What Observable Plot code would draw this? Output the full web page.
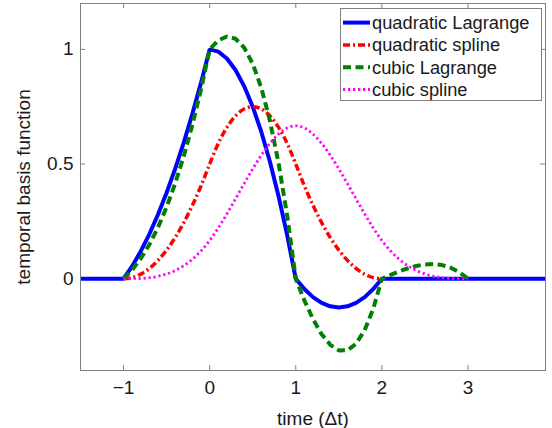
<!DOCTYPE html>
<html>
<head>
<meta charset="utf-8">
<script src="https://cdn.jsdelivr.net/npm/d3@7"></script>
<script src="https://cdn.jsdelivr.net/npm/@observablehq/plot@0.6"></script>
<style>
  html, body { margin: 0; padding: 0; background: #fff; }
  #wrap { position: relative; width: 552px; height: 428px; }
  #legend { position: absolute; left: 0; top: 0; }
</style>
</head>
<body>
<div id="wrap"></div>
<script>
// ---- data ----
const time = [-1.5, -1, -0.9, -0.8, -0.7, -0.6, -0.5, -0.4, -0.3, -0.2, -0.1, 0,
  0.1, 0.2, 0.3, 0.4, 0.5, 0.6, 0.7, 0.8, 0.9, 1,
  1.1, 1.2, 1.3, 1.4, 1.5, 1.6, 1.7, 1.8, 1.9, 2,
  2.1, 2.2, 2.3, 2.4, 2.5, 2.6, 2.7, 2.8, 2.9, 3, 3.9];

const quadraticLagrange = [0, 0, 0.055, 0.12, 0.195, 0.28, 0.375, 0.48, 0.595, 0.72, 0.855, 1,
  0.99, 0.96, 0.91, 0.84, 0.75, 0.64, 0.51, 0.36, 0.19, 0,
  -0.045, -0.08, -0.105, -0.12, -0.125, -0.12, -0.105, -0.08, -0.045, 0,
  0, 0, 0, 0, 0, 0, 0, 0, 0, 0, 0];

const quadraticSpline = [null, 0, 0.005, 0.02, 0.045, 0.08, 0.125, 0.18, 0.245, 0.32, 0.405, 0.5,
  0.59, 0.66, 0.71, 0.74, 0.75, 0.74, 0.71, 0.66, 0.59, 0.5,
  0.405, 0.32, 0.245, 0.18, 0.125, 0.08, 0.045, 0.02, 0.005, 0,
  null, null, null, null, null, null, null, null, null, null, null];

const cubicLagrange = [null, 0, 0.0385, 0.088, 0.1495, 0.224, 0.3125, 0.416, 0.5355, 0.672, 0.8265, 1,
  1.0395, 1.056, 1.0465, 1.008, 0.9375, 0.832, 0.6885, 0.504, 0.2755, 0,
  -0.0945, -0.176, -0.2415, -0.288, -0.3125, -0.312, -0.2835, -0.224, -0.1305, 0,
  0.0165, 0.032, 0.0455, 0.056, 0.0625, 0.064, 0.0595, 0.048, 0.0285, 0, null];

const cubicSpline = [null, 0, 0.0002, 0.0013, 0.0045, 0.0107, 0.0208, 0.036, 0.0572, 0.0853, 0.1215, 0.1667,
  0.2212, 0.2827, 0.3482, 0.4147, 0.4792, 0.5387, 0.5902, 0.6307, 0.6572, 0.6667,
  0.6572, 0.6307, 0.5902, 0.5387, 0.4792, 0.4147, 0.3482, 0.2827, 0.2212, 0.1667,
  0.1215, 0.0853, 0.0572, 0.036, 0.0208, 0.0107, 0.0045, 0.0013, 0.0002, 0, null];

const seriesNames = ["quadratic Lagrange", "quadratic spline", "cubic Lagrange", "cubic spline"];
const xTicks = [-1, 0, 1, 2, 3];
const yTicks = [0, 0.5, 1];
const xLabel = "time (\u0394t)";
const yLabel = "temporal basis function";

// ---- styles ----
const styles = [
  {stroke: "#0000ff", strokeWidth: 4, dash: null, curve: "linear", cap: "butt"},
  {stroke: "#ff0000", strokeWidth: 3.5, dash: "7,3,2,3", curve: "catmull-rom", cap: "butt"},
  {stroke: "#007f00", strokeWidth: 4, dash: "8,4.5", curve: "linear", cap: "butt"},
  {stroke: "#ff00ff", strokeWidth: 2.8, dash: "2.2,2.8", curve: "catmull-rom", cap: "butt"}
];
const seriesValues = [quadraticLagrange, quadraticSpline, cubicLagrange, cubicSpline];

const tables = seriesValues.map(vals =>
  time.map((t, i) => ({t, v: vals[i]})).filter(d => d.v != null));

const W = 552, H = 428, mL = 80, mR = 7, mT = 3, mB = 58;
const innerH = H - mT - mB, innerW = W - mL - mR;
const gridColor = "#808080";
const font = "'Liberation Sans', Arial, Helvetica, sans-serif";
const fontSize = "19px";
const fmt = d => d < 0 ? "\u2212" + (-d) : String(d);

const plot = Plot.plot({
  width: W, height: H,
  marginLeft: mL, marginRight: mR, marginTop: mT, marginBottom: mB,
  style: {fontFamily: font, fontSize, color: "#1a1a1a", background: "#fff"},
  x: {domain: [-1.5, 3.9]},
  y: {domain: [-0.4, 1.2]},
  marks: [
    Plot.tickX(xTicks, {x: d => d, stroke: gridColor, strokeWidth: 1, insetTop: innerH - 5}),
    Plot.tickX(xTicks, {x: d => d, stroke: gridColor, strokeWidth: 1, insetBottom: innerH - 5}),
    Plot.tickY(yTicks, {y: d => d, stroke: gridColor, strokeWidth: 1, insetRight: innerW - 5}),
    Plot.tickY(yTicks, {y: d => d, stroke: gridColor, strokeWidth: 1, insetLeft: innerW - 5}),
    Plot.axisX({ticks: xTicks, tickSize: 0, tickPadding: 10, tickFormat: fmt,
      label: xLabel, labelAnchor: "center", labelOffset: 54, labelArrow: "none"}),
    Plot.axisY({ticks: yTicks, tickSize: 0, tickPadding: 7, tickFormat: fmt,
      label: yLabel, labelAnchor: "center", labelOffset: 64, labelArrow: "none"}),
    ...tables.map((tab, i) => Plot.line(tab, {
      x: "t", y: "v", stroke: styles[i].stroke, strokeWidth: styles[i].strokeWidth,
      strokeDasharray: styles[i].dash, curve: styles[i].curve,
      strokeLinecap: styles[i].cap, strokeLinejoin: "miter"
    })),
    Plot.frame({stroke: gridColor, strokeWidth: 1})
  ]
});
document.getElementById("wrap").appendChild(plot);

// ---- legend overlay ----
const lg = d3.select("#wrap").append("svg")
  .attr("id", "legend").attr("width", W).attr("height", H)
  .style("pointer-events", "none");
lg.append("rect").attr("x", 340.5).attr("y", 8.5).attr("width", 201).attr("height", 92)
  .attr("fill", "#fff").attr("stroke", gridColor).attr("stroke-width", 1);
const rows = lg.selectAll("g.row").data(seriesNames).join("g")
  .attr("transform", (d, i) => `translate(0, ${22.6 + i * 22.3})`);
rows.append("line").attr("x1", 343).attr("x2", 370).attr("y1", 0).attr("y2", 0)
  .attr("stroke", (d, i) => styles[i].stroke)
  .attr("stroke-width", (d, i) => styles[i].strokeWidth)
  .attr("stroke-dasharray", (d, i) => styles[i].dash)
  .attr("stroke-linecap", "butt");
rows.append("text").attr("x", 372).attr("y", 0).attr("dy", "0.35em")
  .attr("font-family", font)
  .attr("font-size", "18.3px").attr("fill", "#1a1a1a")
  .text(d => d);
</script>
</body>
</html>
